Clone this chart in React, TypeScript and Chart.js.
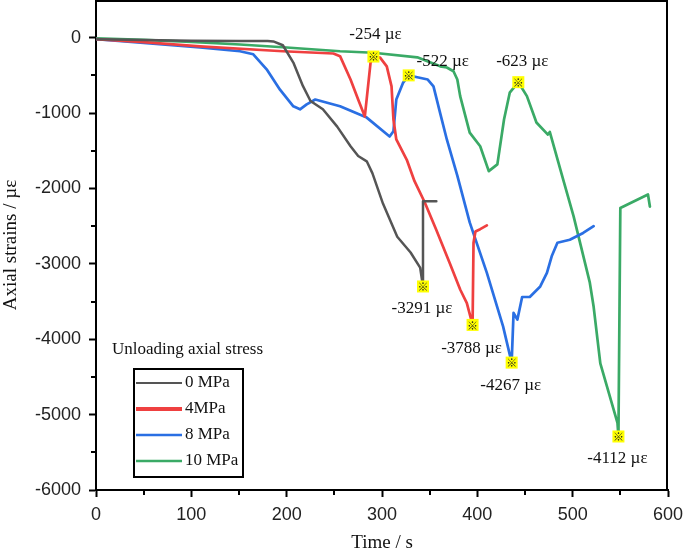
import React, { useEffect, useRef } from 'react';
import { Chart, registerables } from 'chart.js';

Chart.register(...registerables);

// ---- data ----
const seriesLabels = ['0 MPa', '4MPa', '8 MPa', '10 MPa'];

const time0 = [0, 50, 100, 150, 180, 186, 196, 207, 217, 225, 238, 253, 267, 275, 284, 290, 301, 316, 330, 340, 343, 343, 357];
const strain0 = [-20, -30, -40, -45, -45, -50, -100, -330, -640, -840, -950, -1180, -1440, -1570, -1640, -1800, -2200, -2640, -2850, -3050, -3300, -2170, -2170];

const time4 = [0, 50, 109, 196, 249, 256, 267, 275, 282, 288, 291, 298, 305, 310, 312, 315, 326, 334, 345, 357, 371, 382, 389, 395, 396, 398, 403, 410];
const strain4 = [-20, -60, -115, -180, -210, -245, -555, -820, -1045, -330, -250, -265, -380, -645, -1085, -1350, -1620, -1900, -2190, -2550, -2990, -3340, -3520, -3810, -2720, -2570, -2540, -2490];

const time8 = [0, 50, 109, 151, 165, 179, 193, 207, 214, 221, 230, 256, 284, 308, 312, 315, 322, 328, 337, 348, 354, 361, 368, 379, 392, 410, 427, 436, 438, 442, 447, 455, 466, 473, 478, 484, 497, 511, 522];
const strain8 = [-20, -70, -130, -180, -220, -420, -690, -910, -950, -885, -820, -910, -1060, -1310, -1240, -820, -600, -500, -525, -555, -645, -1000, -1350, -1830, -2450, -3120, -3830, -4310, -3650, -3740, -3440, -3440, -3300, -3120, -2900, -2720, -2680, -2590, -2500];

const time10 = [0, 50, 100, 151, 200, 256, 291, 337, 361, 368, 375, 379, 382, 392, 403, 412, 421, 428, 434, 443, 452, 462, 474, 476, 490, 501, 518, 522, 529, 547, 548, 550, 579, 581];
const strain10 = [-10, -30, -55, -90, -130, -180, -200, -260, -380, -395, -445, -555, -775, -1260, -1440, -1770, -1680, -1085, -730, -590, -775, -1125, -1285, -1250, -1880, -2370, -3250, -3570, -4320, -5110, -5290, -2260, -2080, -2240];

const peakTimes = [291, 328, 443, 343, 395, 436, 548];
const peakStrains = [-250, -500, -590, -3300, -3810, -4310, -5290];
const peakLabels = ['-254 µε', '-522 µε', '-623 µε', '-3291 µε', '-3788 µε', '-4267 µε', '-4112 µε'];

const xTickValues = [0, 100, 200, 300, 400, 500, 600];
const yTickValues = [0, -1000, -2000, -3000, -4000, -5000, -6000];

// ---- styles / layout ----
const colors = ['#555555', '#ef4040', '#2a6fe3', '#3aaa66'];
const widths = [2.5, 2.7, 2.7, 2.7];
const legendWidths = [2, 4, 2.5, 2.5];
const labelOffsets = [
  [2, -22],
  [34, -14],
  [4, -21],
  [-1, 22],
  [-1, 24],
  [-1, 23],
  [-1, 22],
];

const SERIF = '"Liberation Serif", "Times New Roman", serif';
const SANS = '"Liberation Sans", Arial, sans-serif';

const decorPlugin = {
  id: 'decor',
  afterDraw(chart: any) {
    const { ctx, chartArea, scales } = chart;
    const xs = scales.x;
    const ys = scales.y;
    ctx.save();
    // frame (top & right)
    ctx.strokeStyle = '#000';
    ctx.lineWidth = 2;
    ctx.beginPath();
    ctx.moveTo(chartArea.left, chartArea.top + 1);
    ctx.lineTo(chartArea.right - 1, chartArea.top + 1);
    ctx.lineTo(chartArea.right - 1, chartArea.bottom);
    ctx.stroke();
    // minor ticks
    ctx.lineWidth = 2;
    for (let i = 0; i < xTickValues.length - 1; i++) {
      const v = (xTickValues[i] + xTickValues[i + 1]) / 2;
      const px = Math.round(xs.getPixelForValue(v));
      ctx.beginPath();
      ctx.moveTo(px, chartArea.bottom);
      ctx.lineTo(px, chartArea.bottom + 5);
      ctx.stroke();
    }
    for (let i = 0; i < yTickValues.length - 1; i++) {
      const v = (yTickValues[i] + yTickValues[i + 1]) / 2;
      const py = Math.round(ys.getPixelForValue(v));
      ctx.beginPath();
      ctx.moveTo(chartArea.left, py);
      ctx.lineTo(chartArea.left - 5, py);
      ctx.stroke();
    }

    // peak markers + labels
    for (let i = 0; i < peakTimes.length; i++) {
      const px = xs.getPixelForValue(peakTimes[i]);
      const py = ys.getPixelForValue(peakStrains[i]);
      ctx.fillStyle = '#ffff00';
      ctx.fillRect(px - 6, py - 6, 12, 12);
      ctx.fillStyle = '#222';
      ctx.font = 'bold 11px "Noto Sans CJK SC", "DejaVu Sans", sans-serif';
      ctx.textAlign = 'center';
      ctx.textBaseline = 'middle';
      ctx.fillText('※', px, py + 0.5);
      ctx.fillStyle = '#111';
      ctx.font = `17px ${SERIF}`;
      ctx.fillText(peakLabels[i], px + labelOffsets[i][0], py + labelOffsets[i][1]);
    }

    // legend
    ctx.fillStyle = '#111';
    ctx.font = `17px ${SERIF}`;
    ctx.textAlign = 'left';
    ctx.textBaseline = 'middle';
    ctx.fillText('Unloading axial stress', 112, 350);
    ctx.strokeStyle = '#000';
    ctx.lineWidth = 2;
    ctx.strokeRect(134, 369, 109, 108);
    for (let i = 0; i < seriesLabels.length; i++) {
      const y = 383 + i * 26;
      ctx.strokeStyle = colors[i];
      ctx.lineWidth = legendWidths[i];
      ctx.beginPath();
      ctx.moveTo(136, y);
      ctx.lineTo(182, y);
      ctx.stroke();
      ctx.fillStyle = '#111';
      ctx.fillText(seriesLabels[i], 185, y);
    }
    ctx.restore();
  },
};

const zeroPad = (s: any) => {
  s.paddingTop = 0;
  s.paddingBottom = 0;
  s.paddingLeft = 0;
  s.paddingRight = 0;
};

export default function App() {
  const ref = useRef<HTMLCanvasElement>(null);
  useEffect(() => {
    document.body.style.margin = '0';
    const toPts = (t: number[], v: number[]) => t.map((x, i) => ({ x, y: v[i] }));
    const series = [
      toPts(time0, strain0),
      toPts(time4, strain4),
      toPts(time8, strain8),
      toPts(time10, strain10),
    ];
    const chart = new Chart(ref.current as HTMLCanvasElement, {
      type: 'line',
      data: {
        datasets: series.map((d, i) => ({
          label: seriesLabels[i],
          data: d,
          borderColor: colors[i],
          backgroundColor: colors[i],
          borderWidth: widths[i],
          pointRadius: 0,
          tension: 0,
          borderJoinStyle: 'round' as const,
          borderCapStyle: 'round' as const,
        })),
      },
      options: {
        animation: false,
        responsive: false,
        layout: { padding: { top: 0, right: 17, left: 0, bottom: 0 } },
        plugins: { legend: { display: false }, tooltip: { enabled: false } },
        scales: {
          x: {
            type: 'linear',
            min: 0,
            max: 600,
            afterBuildTicks: (s: any) => {
              s.ticks = xTickValues.map((v) => ({ value: v }));
            },
            ticks: {
              stepSize: 100,
              padding: 7,
              color: '#222',
              font: { family: SANS, size: 18 },
              callback: (v: any) => String(v),
            },
            grid: { drawOnChartArea: false, tickLength: 7, tickWidth: 2, tickColor: '#000' },
            border: { display: true, color: '#000', width: 2 },
            title: {
              display: true,
              text: 'Time / s',
              color: '#111',
              font: { family: SERIF, size: 19 },
              padding: { top: 0, bottom: -3 },
            },
            afterFit: (s: any) => {
              s.height = 61;
              zeroPad(s);
            },
          },
          y: {
            type: 'linear',
            min: -6000,
            max: 500,
            afterBuildTicks: (s: any) => {
              s.ticks = yTickValues.map((v) => ({ value: v }));
            },
            ticks: {
              stepSize: 1000,
              padding: 8,
              color: '#222',
              font: { family: SANS, size: 18 },
              callback: (v: any) => String(v),
            },
            grid: { drawOnChartArea: false, tickLength: 7, tickWidth: 2, tickColor: '#000' },
            border: { display: true, color: '#000', width: 2 },
            title: {
              display: true,
              text: 'Axial strains / µε',
              color: '#111',
              font: { family: SERIF, size: 19 },
              padding: { top: 0, bottom: 0 },
            },
            afterFit: (s: any) => {
              s.width = 96;
              zeroPad(s);
            },
          },
        },
      } as any,
      plugins: [decorPlugin],
    });
    return () => chart.destroy();
  }, []);
  return (
    <div style={{ width: 685, height: 551 }}>
      <canvas ref={ref} width={685} height={551} style={{ display: 'block' }} />
    </div>
  );
}
